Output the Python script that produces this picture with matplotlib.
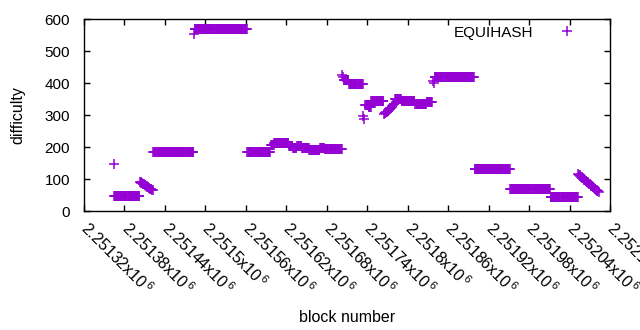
import numpy as np
import matplotlib
matplotlib.use("Agg")
import matplotlib.pyplot as plt
from matplotlib.transforms import ScaledTranslation

plt.rcParams['font.family'] = ['Liberation Sans', 'DejaVu Sans']
plt.rcParams['mathtext.default'] = 'regular'

## Flat runs of difficulty: first block, last block, value
seg_start = [2251365, 2251423, 2251484, 2251562, 2251597, 2251602, 2251624, 2251630, 2251636,
             2251643, 2251654, 2251664, 2251670, 2251677, 2251705, 2251713, 2251737, 2251742,
             2251746, 2251781, 2251791, 2251811, 2251828, 2251840, 2251899, 2251952, 2252012]
seg_end = [2251402, 2251482, 2251561, 2251596, 2251601, 2251623, 2251629, 2251635, 2251642,
           2251653, 2251663, 2251669, 2251676, 2251702, 2251712, 2251733, 2251741, 2251745,
           2251764, 2251790, 2251810, 2251827, 2251836, 2251898, 2251951, 2252011, 2252052]
seg_value = [48, 184, 571, 184, 206, 212, 203, 197, 205,
             197, 193, 190, 197, 196, 410, 399, 333, 325,
             346, 351, 345, 337, 343, 420, 132, 68, 43]

## Lone points
single_block = [2251364, 2251483, 2251703, 2251704, 2251734, 2251735, 2251838, 2251839]
single_value = [149, 555, 425, 420, 297, 290, 406, 402]

## Sloped stretches, one value per block from the start block
ramp1_start = 2251403
ramp1_values = [92, 91, 89, 88, 86, 85, 84, 82, 81, 79, 78, 77, 75, 74, 72, 71, 70, 68, 67, 65]
ramp2_start = 2251765
ramp2_values = [305, 307, 306, 310, 312, 315, 314, 318, 321, 323, 322, 327, 330, 332, 335, 337]
ramp3_start = 2252053
ramp3_values = [115, 113, 112, 110, 108, 106, 104, 103, 101, 99, 97, 95, 93, 91, 90, 88,
                86, 84, 82, 80, 78, 77, 75, 73, 71, 69, 67, 66, 64, 62, 60]

x_ticks = [2251320, 2251380, 2251440, 2251500, 2251560, 2251620, 2251680, 2251740,
           2251800, 2251860, 2251920, 2251980, 2252040, 2252100]
x_labels = ['2.25132', '2.25138', '2.25144', '2.2515', '2.25156', '2.25162', '2.25168',
            '2.25174', '2.2518', '2.25186', '2.25192', '2.25198', '2.25204', '2.2521']
y_ticks = [0, 100, 200, 300, 400, 500, 600]


def build_series():
    blocks, values = list(single_block), list(single_value)
    for s, e, v in zip(seg_start, seg_end, seg_value):
        for b in range(s, e + 1):
            blocks.append(b)
            values.append(v)
    for start, vals in [(ramp1_start, ramp1_values), (ramp2_start, ramp2_values), (ramp3_start, ramp3_values)]:
        for i, v in enumerate(vals):
            blocks.append(start + i)
            values.append(v)
    order = np.argsort(blocks)
    return np.array(blocks)[order], np.array(values)[order]


def main():
    blocks, values = build_series()
    fig = plt.figure(figsize=(6.4, 3.3), dpi=100)
    ax = fig.add_axes([0.13125, 0.36, 0.822, 0.581])
    ax.plot(blocks, values, linestyle='none', marker='+', markersize=6.5, markeredgewidth=1.1,
            color='#9400D3', label='EQUIHASH')
    ax.set_xlim(2251320, 2252100)
    ax.set_ylim(0, 600)
    ax.set_xticks(x_ticks)
    ax.set_xticklabels([l + r'x10$^{\,6}$' for l in x_labels], rotation=-45,
                       ha='left', va='center', rotation_mode='anchor', fontsize=11.5)
    # nudge the slanted labels right so they start at their tick like the original
    shift = ScaledTranslation(4 / 100, 0, fig.dpi_scale_trans)
    for lab in ax.get_xticklabels():
        lab.set_transform(lab.get_transform() + shift)
    ax.set_yticks(y_ticks)
    ax.tick_params(direction='in', length=4, width=1, top=True, right=True, labelsize=11, colors='black')
    ax.tick_params(axis='x', pad=10, labelsize=11.5)
    ax.tick_params(axis='y', pad=10)
    for sp in ax.spines.values():
        sp.set_linewidth(1)
    ax.set_xlabel('block number', fontsize=11.5, labelpad=9)
    ax.set_ylabel('difficulty', fontsize=11.5, labelpad=14)
    ax.legend(loc='upper right', bbox_to_anchor=(0.959, 1.0), frameon=False, markerfirst=False,
              numpoints=1, handlelength=2, handletextpad=1.22, fontsize=11, borderaxespad=0)
    fig.savefig('out.png', dpi=100)


if __name__ == "__main__":
    main()
